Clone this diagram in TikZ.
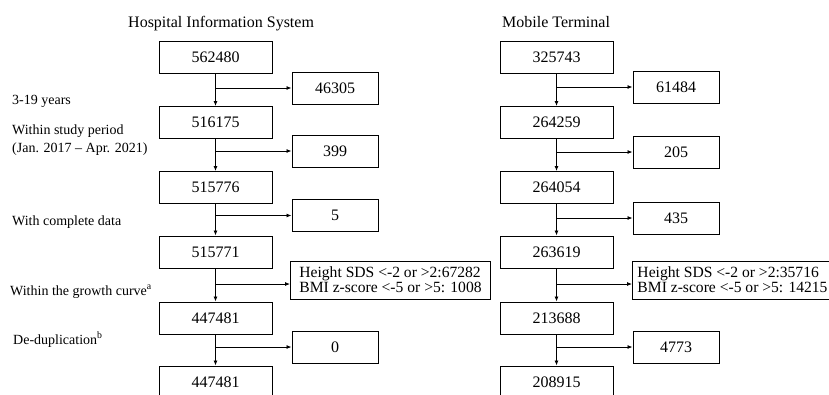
\documentclass[tikz,border=0pt]{standalone}
\usepackage{fontspec}
\setmainfont{Liberation Serif}
\usetikzlibrary{arrows.meta}
\newcommand{\lw}{0.8pt}

\begin{document}
\begin{tikzpicture}[x=1pt, y=-1pt,
  box/.style={draw, line width=1pt, minimum width=113pt, minimum height=32pt,
    inner sep=0pt, font=\fontsize{16}{16}\selectfont},
  side/.style={box, minimum width=86pt},
  crit/.style={box, anchor=west, inner sep=4pt, minimum width=200pt, minimum height=38pt,
    align=left, font=\fontsize{15.6}{15}\selectfont},
  lab/.style={anchor=base west, inner sep=0pt, font=\fontsize{14}{18}\selectfont},
  flow/.style={line width=\lw, -{Latex[length=5pt, width=4pt]}}]
  \useasboundingbox (0,0) rectangle (829,394);

  % titles
  \node[anchor=base west, inner sep=0pt, font=\fontsize{16}{16}\selectfont] (tHIS) at (128, 27) {Hospital Information System};
  \node[anchor=base west, inner sep=0pt, font=\fontsize{16}{16}\selectfont] (tMT)  at (502, 27) {Mobile Terminal};

  % criteria
  \node[lab] (l1) at (12, 104) {3-19 years};
  \node[lab, align=left] (l2) at (12, 152) {Within study period\\(Jan. 2017 -- Apr. 2021)};
  \node[lab] (l3) at (12, 225) {With complete data};
  \node[lab] (l4) at (10, 295) {Within the growth curve\textsuperscript{a}};
  \node[lab] (l5) at (13, 344) {De-duplication\textsuperscript{b}};

  % hospital information system
  \node[box]  (h1) at (215.5, 57)    {562480};
  \node[box]  (h2) at (215.5, 122.5) {516175};
  \node[box]  (h3) at (215.5, 187.5) {515776};
  \node[box]  (h4) at (215.5, 252)   {515771};
  \node[box]  (h5) at (215.5, 318)   {447481};
  \node[box]  (h6) at (215.5, 382)   {447481};
  \node[side] (hx1) at (335, 88)    {46305};
  \node[side] (hx2) at (335, 151)   {399};
  \node[side] (hx3) at (335, 215.5) {5};
  \node[crit] (hx4) at (290, 280)   {Height SDS <-2 or >2:67282\\BMI z-score <-5 or >5: 1008};
  \node[side] (hx5) at (335, 347)   {0};

  % mobile terminal
  \node[box]  (m1) at (556.5, 57)    {325743};
  \node[box]  (m2) at (556.5, 122.5) {264259};
  \node[box]  (m3) at (556.5, 187.5) {264054};
  \node[box]  (m4) at (556.5, 252)   {263619};
  \node[box]  (m5) at (556.5, 318)   {213688};
  \node[box]  (m6) at (556.5, 382)   {208915};
  \node[side] (mx1) at (676, 87)    {61484};
  \node[side] (mx2) at (676, 152)   {205};
  \node[side] (mx3) at (676, 218)   {435};
  \node[crit] (mx4) at (632, 280)   {Height SDS <-2 or >2:35716\\BMI z-score <-5 or >5: 14215};
  \node[side] (mx5) at (676, 347)   {4773};

  \foreach \c in {h, m} {
    \foreach \i [count=\j from 2] in {1,...,5}
      \draw[flow] (\c\i.south) -- (\c\j.north);
  }
  \draw[flow] (h1.south |- hx1.west) -- (hx1.west);
  \draw[flow] (h2.south |- hx2.west) -- (hx2.west);
  \draw[flow] (h3.south |- hx3.west) -- (hx3.west);
  \draw[flow] (h4.south |- 0,284) -- (0,284 -| hx4.west);
  \draw[flow] (h5.south |- hx5.west) -- (hx5.west);
  \draw[flow] (m1.south |- mx1.west) -- (mx1.west);
  \draw[flow] (m2.south |- mx2.west) -- (mx2.west);
  \draw[flow] (m3.south |- mx3.west) -- (mx3.west);
  \draw[flow] (m4.south |- 0,284) -- (0,284 -| mx4.west);
  \draw[flow] (m5.south |- mx5.west) -- (mx5.west);
\end{tikzpicture}
\end{document}
